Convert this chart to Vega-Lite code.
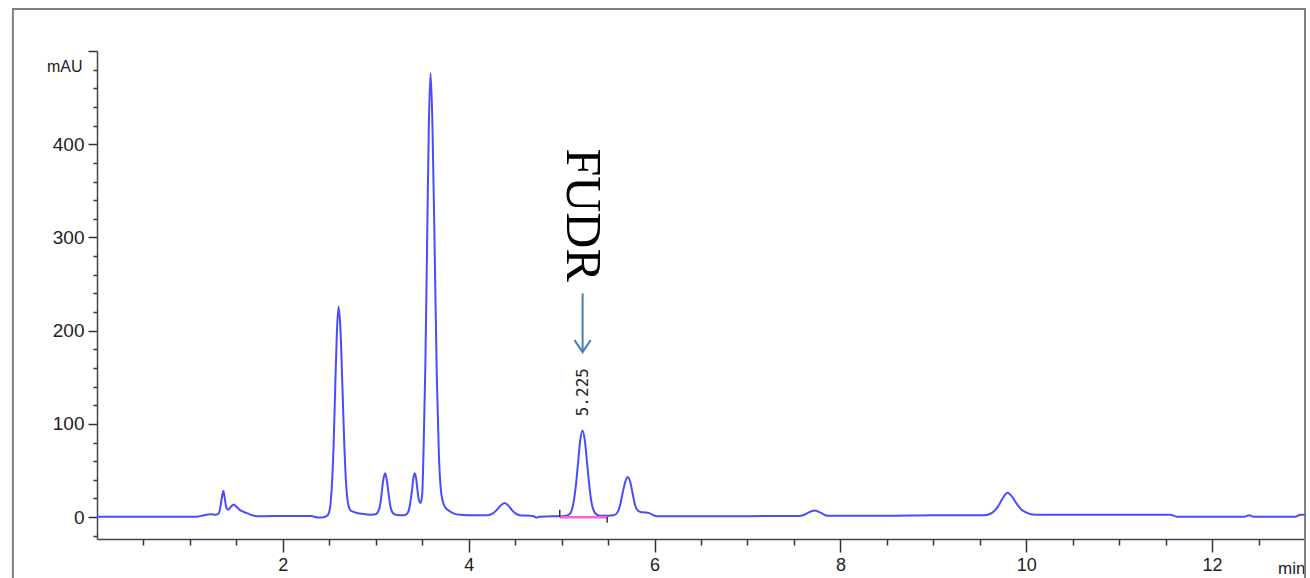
{
  "$schema": "https://vega.github.io/schema/vega-lite/v6.json",
  "width": 1208,
  "height": 488,
  "autosize": {"type": "none"},
  "padding": {"left": 97, "top": 51, "right": 5, "bottom": 39},
  "background": "white",
  "config": {"view": {"stroke": null}},
  "data": {"values": [{}]},
  "datasets": {
    "trace": [
      {"t": 0, "mAU": 0.3}, {"t": 0.5, "mAU": 0.3}, {"t": 1.0, "mAU": 0.3}, {"t": 1.08, "mAU": 0.5},
      {"t": 1.15, "mAU": 2}, {"t": 1.22, "mAU": 3}, {"t": 1.28, "mAU": 2.5}, {"t": 1.31, "mAU": 4},
      {"t": 1.33, "mAU": 12}, {"t": 1.345, "mAU": 22}, {"t": 1.36, "mAU": 28}, {"t": 1.375, "mAU": 20},
      {"t": 1.39, "mAU": 11}, {"t": 1.41, "mAU": 8}, {"t": 1.44, "mAU": 11}, {"t": 1.47, "mAU": 13.5},
      {"t": 1.5, "mAU": 11}, {"t": 1.54, "mAU": 7.5}, {"t": 1.58, "mAU": 5.5}, {"t": 1.62, "mAU": 4},
      {"t": 1.67, "mAU": 2}, {"t": 1.72, "mAU": 1}, {"t": 1.8, "mAU": 1}, {"t": 2.0, "mAU": 1.2},
      {"t": 2.3, "mAU": 1.2}, {"t": 2.38, "mAU": -0.5}, {"t": 2.43, "mAU": -0.3}, {"t": 2.47, "mAU": 1},
      {"t": 2.489, "mAU": 3}, {"t": 2.508, "mAU": 10}, {"t": 2.526, "mAU": 31}, {"t": 2.545, "mAU": 73},
      {"t": 2.563, "mAU": 137}, {"t": 2.582, "mAU": 199}, {"t": 2.6, "mAU": 226}, {"t": 2.621, "mAU": 199},
      {"t": 2.642, "mAU": 137}, {"t": 2.663, "mAU": 73}, {"t": 2.684, "mAU": 31}, {"t": 2.705, "mAU": 13},
      {"t": 2.73, "mAU": 7}, {"t": 2.78, "mAU": 5}, {"t": 2.85, "mAU": 3.5}, {"t": 2.95, "mAU": 2.5},
      {"t": 3.0, "mAU": 3}, {"t": 3.034, "mAU": 8}, {"t": 3.05, "mAU": 15}, {"t": 3.067, "mAU": 29},
      {"t": 3.083, "mAU": 41}, {"t": 3.1, "mAU": 47}, {"t": 3.117, "mAU": 41}, {"t": 3.133, "mAU": 29},
      {"t": 3.15, "mAU": 16}, {"t": 3.166, "mAU": 8}, {"t": 3.2, "mAU": 3}, {"t": 3.25, "mAU": 2},
      {"t": 3.3, "mAU": 2}, {"t": 3.33, "mAU": 3}, {"t": 3.36, "mAU": 9}, {"t": 3.39, "mAU": 29},
      {"t": 3.405, "mAU": 42}, {"t": 3.42, "mAU": 47}, {"t": 3.435, "mAU": 41}, {"t": 3.45, "mAU": 28},
      {"t": 3.465, "mAU": 18}, {"t": 3.484, "mAU": 15}, {"t": 3.5, "mAU": 25}, {"t": 3.514, "mAU": 70},
      {"t": 3.533, "mAU": 160}, {"t": 3.552, "mAU": 290}, {"t": 3.571, "mAU": 420}, {"t": 3.59, "mAU": 476},
      {"t": 3.61, "mAU": 420}, {"t": 3.635, "mAU": 280}, {"t": 3.657, "mAU": 150}, {"t": 3.68, "mAU": 65},
      {"t": 3.7, "mAU": 30}, {"t": 3.73, "mAU": 14}, {"t": 3.76, "mAU": 9}, {"t": 3.8, "mAU": 6},
      {"t": 3.85, "mAU": 3.5}, {"t": 3.9, "mAU": 2.5}, {"t": 4.0, "mAU": 2}, {"t": 4.2, "mAU": 2},
      {"t": 4.26, "mAU": 4}, {"t": 4.3, "mAU": 7.5}, {"t": 4.34, "mAU": 12}, {"t": 4.387, "mAU": 15},
      {"t": 4.43, "mAU": 12}, {"t": 4.47, "mAU": 7}, {"t": 4.51, "mAU": 3.5}, {"t": 4.55, "mAU": 2},
      {"t": 4.65, "mAU": 1.5}, {"t": 4.7, "mAU": 1}, {"t": 4.73, "mAU": -0.5}, {"t": 4.76, "mAU": 0.5},
      {"t": 4.9, "mAU": 1}, {"t": 5.0, "mAU": 1}, {"t": 5.05, "mAU": 1.5}, {"t": 5.075, "mAU": 2.5},
      {"t": 5.1, "mAU": 5}, {"t": 5.125, "mAU": 14}, {"t": 5.15, "mAU": 31}, {"t": 5.175, "mAU": 56},
      {"t": 5.2, "mAU": 82}, {"t": 5.225, "mAU": 93}, {"t": 5.25, "mAU": 82}, {"t": 5.275, "mAU": 57},
      {"t": 5.3, "mAU": 32}, {"t": 5.325, "mAU": 14}, {"t": 5.35, "mAU": 6}, {"t": 5.375, "mAU": 3},
      {"t": 5.42, "mAU": 1.5}, {"t": 5.5, "mAU": 1.5}, {"t": 5.56, "mAU": 2}, {"t": 5.6, "mAU": 5},
      {"t": 5.63, "mAU": 13}, {"t": 5.655, "mAU": 25}, {"t": 5.68, "mAU": 36}, {"t": 5.71, "mAU": 43},
      {"t": 5.74, "mAU": 37}, {"t": 5.765, "mAU": 25}, {"t": 5.79, "mAU": 13}, {"t": 5.82, "mAU": 7},
      {"t": 5.85, "mAU": 5.5}, {"t": 5.9, "mAU": 5}, {"t": 5.95, "mAU": 4}, {"t": 5.99, "mAU": 2},
      {"t": 6.03, "mAU": 1}, {"t": 7.0, "mAU": 1}, {"t": 7.55, "mAU": 1.2}, {"t": 7.6, "mAU": 2},
      {"t": 7.65, "mAU": 4.5}, {"t": 7.72, "mAU": 7}, {"t": 7.78, "mAU": 5}, {"t": 7.82, "mAU": 3},
      {"t": 7.86, "mAU": 1.5}, {"t": 8.5, "mAU": 1.5}, {"t": 9.0, "mAU": 2}, {"t": 9.55, "mAU": 2},
      {"t": 9.6, "mAU": 3}, {"t": 9.65, "mAU": 6}, {"t": 9.7, "mAU": 12}, {"t": 9.74, "mAU": 19},
      {"t": 9.8, "mAU": 26}, {"t": 9.86, "mAU": 20}, {"t": 9.9, "mAU": 14}, {"t": 9.95, "mAU": 8},
      {"t": 10.0, "mAU": 5}, {"t": 10.05, "mAU": 3}, {"t": 10.1, "mAU": 2.5}, {"t": 11.0, "mAU": 2.5},
      {"t": 11.55, "mAU": 2.5}, {"t": 11.62, "mAU": 0.5}, {"t": 12.35, "mAU": 0.5}, {"t": 12.4, "mAU": 2},
      {"t": 12.44, "mAU": 0.5}, {"t": 12.9, "mAU": 0.5}, {"t": 12.95, "mAU": 2.5}, {"t": 13.0, "mAU": 2.5}
    ],
    "marks": [
      {"x": 4.98, "y": 0, "y2": 8},
      {"x": 5.49, "y": 0, "y2": -6}
    ]
  },
  "layer": [
    {
      "mark": {"type": "rect", "fill": null, "fillOpacity": 0, "stroke": "#808080", "strokeWidth": 2, "clip": false},
      "encoding": {
        "x": {"datum": -0.905, "type": "quantitative", "scale": {"domain": [0, 13], "nice": false, "zero": false}},
        "x2": {"datum": 13.0},
        "y": {"datum": 545, "type": "quantitative", "scale": {"domain": [-23.5, 500], "nice": false, "zero": false}},
        "y2": {"datum": -80}
      }
    },
    {
      "data": {"name": "trace"},
      "mark": {"type": "line", "color": "#4a4aff", "strokeWidth": 2, "interpolate": "monotone", "clip": true},
      "encoding": {
        "x": {
          "field": "t", "type": "quantitative",
          "scale": {"domain": [0, 13], "nice": false, "zero": false},
          "axis": {
            "values": [0.5, 1, 1.5, 2, 2.5, 3, 3.5, 4, 4.5, 5, 5.5, 6, 6.5, 7, 7.5, 8, 8.5, 9, 9.5, 10, 10.5, 11, 11.5, 12, 12.5],
            "tickCount": 200,
            "labelExpr": "datum.value % 2 === 0 ? '' + datum.value : ''",
            "labelOverlap": false, "labelBound": false, "labelFlush": false,
            "tickSize": {"condition": {"test": "datum.value % 2 === 0", "value": 13}, "value": 6},
            "tickColor": "#333", "tickWidth": 1.5,
            "domainColor": "#444", "domainWidth": 1.5,
            "labelFont": "Liberation Sans Narrow, Arial Narrow, Liberation Sans",
            "labelFontSize": 18, "labelColor": "#222", "labelPadding": 4,
            "grid": false,
            "title": "min", "titleFont": "Liberation Sans Narrow, Arial Narrow, Liberation Sans",
            "titleFontSize": 17, "titleFontWeight": "normal", "titleColor": "#222",
            "titleX": 1208, "titleY": 29, "titleAlign": "right", "titleBaseline": "middle", "titleAnchor": null
          }
        },
        "y": {
          "field": "mAU", "type": "quantitative",
          "scale": {"domain": [-23.5, 500], "nice": false, "zero": false},
          "axis": {
            "values": [-20, 0, 20, 40, 60, 80, 100, 120, 140, 160, 180, 200, 220, 240, 260, 280, 300, 320, 340, 360, 380, 400, 420, 440, 460, 480, 500],
            "tickCount": 200,
            "labelExpr": "(datum.value % 100 === 0 && datum.value >= 0 && datum.value <= 400) ? datum.label : ''",
            "format": "d",
            "labelOverlap": false, "labelBound": false, "labelFlush": false,
            "tickSize": {"condition": {"test": "datum.value % 100 === 0", "value": 9}, "value": 4},
            "tickColor": "#333", "tickWidth": 1.5,
            "domainColor": "#444", "domainWidth": 1.5,
            "labelFont": "Liberation Sans Narrow, Arial Narrow, Liberation Sans",
            "labelFontSize": 19, "labelColor": "#222", "labelPadding": 4,
            "grid": false,
            "title": "mAU", "titleFont": "Liberation Sans Narrow, Arial Narrow, Liberation Sans",
            "titleFontSize": 16, "titleFontWeight": "normal", "titleColor": "#222",
            "titleAngle": 0, "titleX": -15, "titleY": 15, "titleAlign": "right", "titleBaseline": "middle", "titleAnchor": null
          }
        }
      }
    },
    {
      "mark": {"type": "rule", "color": "#ff5fd7", "strokeWidth": 2.5},
      "encoding": {
        "x": {"datum": 4.98, "type": "quantitative"},
        "x2": {"datum": 5.49},
        "y": {"datum": -0.3, "type": "quantitative"}
      }
    },
    {
      "data": {"name": "marks"},
      "mark": {"type": "rule", "color": "#333", "strokeWidth": 1.5},
      "encoding": {
        "x": {"field": "x", "type": "quantitative"},
        "y": {"field": "y", "type": "quantitative"},
        "y2": {"field": "y2"}
      }
    },
    {
      "mark": {"type": "rule", "color": "#4a7ebb", "strokeWidth": 2},
      "encoding": {
        "x": {"datum": 5.226, "type": "quantitative"},
        "y": {"datum": 240, "type": "quantitative"},
        "y2": {"datum": 178}
      }
    },
    {
      "mark": {"type": "point", "shape": "M-0.67,-1L0,0L0.67,-1", "size": 576, "filled": false, "color": "#4a7ebb", "strokeWidth": 2, "opacity": 1},
      "encoding": {
        "x": {"datum": 5.226, "type": "quantitative"},
        "y": {"datum": 177, "type": "quantitative"}
      }
    },
    {
      "mark": {"type": "text", "text": "FUDR", "angle": 90, "font": "Liberation Serif", "fontSize": 50, "color": "#000", "align": "center", "baseline": "middle"},
      "encoding": {
        "x": {"datum": 5.22, "type": "quantitative"},
        "y": {"datum": 324, "type": "quantitative"}
      }
    },
    {
      "mark": {"type": "text", "text": "5.225", "angle": 270, "font": "DejaVu Sans Mono", "fontSize": 16, "color": "#222", "align": "center", "baseline": "middle"},
      "encoding": {
        "x": {"datum": 5.235, "type": "quantitative"},
        "y": {"datum": 134, "type": "quantitative"}
      }
    }
  ]
}
